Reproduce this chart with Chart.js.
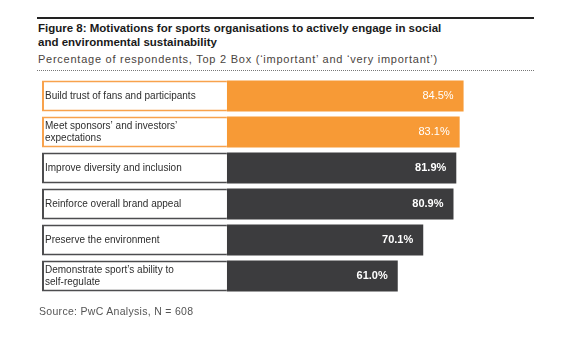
<!DOCTYPE html>
<html>
<head>
<meta charset="utf-8">
<script src="https://cdn.jsdelivr.net/npm/chart.js@4.4.0/dist/chart.umd.min.js"></script>
<style>
  body { margin: 0; background: #fff; font-family: "Liberation Sans", Arial, sans-serif; }
  #wrap { position: relative; width: 578px; height: 345px; overflow: hidden; }
  #chart { position: absolute; left: 0; top: 0; }
  .rule { position: absolute; left: 37px; width: 497px; }
  #topRule { top: 17px; border-top: 2px solid #222; }
  #dotRule { top: 70px; border-top: 1px dotted #777; }
  #title { position: absolute; left: 38px; top: 21px; font-size: 11.5px; font-weight: bold; line-height: 14px; color: #1a1a1a; }
  #subtitle { position: absolute; left: 38px; top: 52px; font-size: 11px; letter-spacing: 0.75px; line-height: 14px; color: #4a4440; }
  #source { position: absolute; left: 39px; top: 305px; font-size: 10.5px; letter-spacing: 0.3px; color: #555; }
</style>
</head>
<body>
<div id="wrap">
  <div class="rule" id="topRule"></div>
  <div id="title">Figure 8: Motivations for sports organisations to actively engage in social<br>and environmental sustainability</div>
  <div id="subtitle">Percentage of respondents, Top 2 Box (‘important’ and ‘very important’)</div>
  <div class="rule" id="dotRule"></div>
  <canvas id="chart" width="578" height="345"></canvas>
  <div id="source">Source: PwC Analysis, N = 608</div>
</div>
<script>
// Daten aus der Grafik
const kategorien = [
    ['Build trust of fans and participants'],
    ['Meet sponsors’ and investors’', 'expectations'],
    ['Improve diversity and inclusion'],
    ['Reinforce overall brand appeal'],
    ['Preserve the environment'],
    ['Demonstrate sport’s ability to', 'self-regulate']
];
const werte = [84.5, 83.1, 81.9, 80.9, 70.1, 61.0];
const hervorgehoben = [true, true, false, false, false, false];

const orange = '#f79a36';
const dunkel = '#3c3c3e';
const labelBreite = -66; // Platz für das weisse Textfeld links

const farben = hervorgehoben.map(h => h ? orange : dunkel);
const randFarben = hervorgehoben.map(h => h ? '#f8a24c' : '#4d4d4f');

// Plugin zeichnet Kategorien und Prozentwerte in die Balken
const beschriftung = {
    id: 'beschriftung',
    afterDatasetsDraw(chart) {
        const ctx = chart.ctx;
        const meta = chart.getDatasetMeta(1);
        const left = chart.chartArea.left;
        ctx.save();
        meta.data.forEach((bar, i) => {
            // Kategorie links
            ctx.fillStyle = '#2e2e2e';
            ctx.font = '10px "Liberation Sans", Arial, sans-serif';
            ctx.textAlign = 'left';
            ctx.textBaseline = 'middle';
            const zeilen = kategorien[i];
            const lh = 11.5;
            zeilen.forEach((z, k) => {
                ctx.fillText(z, left + 3, bar.y + (k - (zeilen.length - 1) / 2) * lh);
            });
            // Wert rechts
            ctx.fillStyle = '#fff';
            ctx.font = (hervorgehoben[i] ? '' : 'bold ') + '11px "Liberation Sans", Arial, sans-serif';
            ctx.textAlign = 'right';
            ctx.fillText(werte[i].toFixed(1) + '%', bar.x - 10, bar.y);
        });
        ctx.restore();
    }
};

new Chart(document.getElementById('chart'), {
    type: 'bar',
    data: {
        labels: kategorien.map(k => k.join(' ')),
        datasets: [{
            label: 'Textfeld',
            data: werte.map(() => [labelBreite, 0]),
            backgroundColor: '#fff',
            borderColor: randFarben,
            borderWidth: { top: 2, bottom: 2, left: 2, right: 0 },
            borderSkipped: false,
            grouped: false,
            barPercentage: 0.86,
            categoryPercentage: 1
        }, {
            label: 'Top 2 Box',
            data: werte.map(w => [0, w]),
            backgroundColor: farben,
            borderWidth: 0,
            grouped: false,
            barPercentage: 0.86,
            categoryPercentage: 1
        }]
    },
    options: {
        indexAxis: 'y',
        responsive: false,
        animation: false,
        layout: { padding: { left: 42, right: 71, top: 78, bottom: 51 } },
        plugins: { legend: { display: false }, tooltip: { enabled: false } },
        scales: {
            x: { display: false, min: labelBreite, max: 100 },
            y: { display: false }
        }
    },
    plugins: [beschriftung]
});
</script>
</body>
</html>
